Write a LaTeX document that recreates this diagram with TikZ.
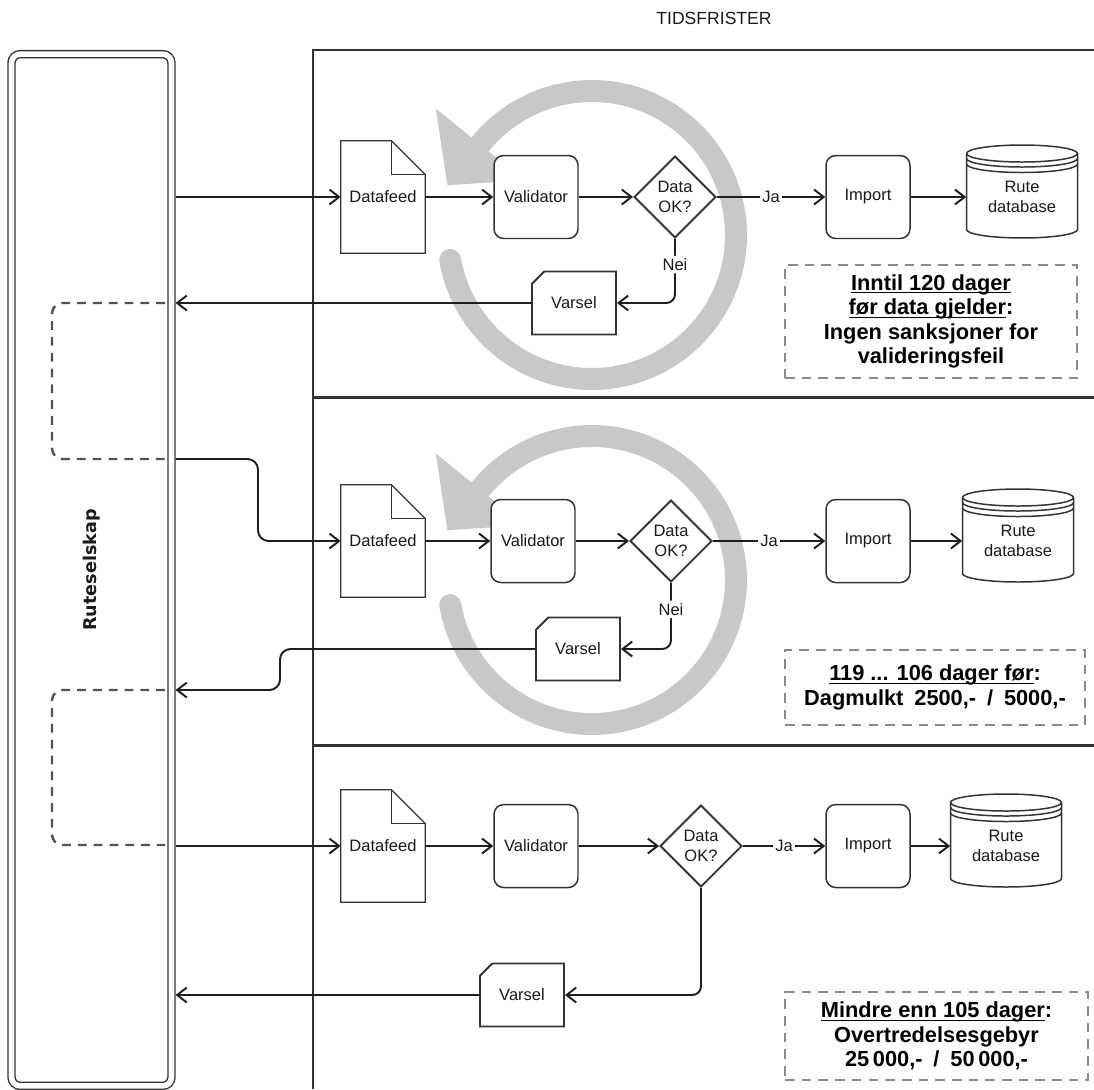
\documentclass[tikz,border=0pt]{standalone}
\usepackage{fontspec}
\setmainfont{Liberation Sans}
\newfontfamily\dejavu{DejaVu Sans}
\usetikzlibrary{shapes.geometric,shapes.misc,arrows.meta,calc}

\definecolor{ringgray}{HTML}{C8C8C8}
\definecolor{linje}{HTML}{1E1E1E}
\definecolor{kant}{HTML}{333333}
\definecolor{stiplet}{HTML}{8A8A8A}
\definecolor{tekst}{HTML}{1A1A1A}

\tikzstyle{kolonne} = [draw=kant, line width=0.8pt, double=white, double distance=3.2pt, rounded corners=5pt, minimum width=3.2cm, minimum height=20.64cm, outer sep=2.3pt]
\tikzstyle{prosess} = [draw=kant, line width=0.85pt, rounded corners=5.5pt, fill=white, minimum width=1.68cm, minimum height=1.66cm, inner sep=0pt]
\tikzstyle{beslutning} = [diamond, draw=kant, line width=1.1pt, fill=white, minimum width=1.64cm, minimum height=1.64cm, inner sep=0pt, align=center]
\tikzstyle{dok} = [minimum width=1.68cm, minimum height=2.24cm, inner sep=0pt]
\tikzstyle{varsel} = [chamfered rectangle, chamfered rectangle corners=north west, chamfered rectangle xsep=0.28cm, draw=kant, line width=1.1pt, fill=white, minimum width=1.68cm, minimum height=1.26cm, inner sep=0pt]
\tikzstyle{db} = [minimum width=2.22cm, minimum height=1.2cm, inner sep=0pt, align=center]
\tikzstyle{notat} = [draw=stiplet, line width=0.85pt, dash pattern=on 5.5pt off 4pt, align=center, text=black, font=\fontsize{12.4}{14}\selectfont\bfseries]
\tikzstyle{pil} = [draw=linje, line width=1.1pt, -{Straight Barb[length=5.5pt,width=8.5pt]}]
\tikzstyle{loopline} = [draw=black!68, line width=1.35pt, dash pattern=on 5pt off 4pt, rounded corners=6pt]
\tikzstyle{skille} = [draw=kant, line width=1.7pt]
\tikzstyle{ramme} = [draw=kant, line width=0.9pt]
\tikzstyle{etikett} = [fill=white, inner sep=1.5pt]

% underline sitting just under the baseline
\newcommand{\understrek}[1]{\underline{\raisebox{0pt}[\height][0pt]{#1}}}

% datafeed outline with folded corner
\newcommand{\dokument}[1]{%
  \draw[draw=kant, line width=0.7pt] (#1.north west) -- ($(#1.north east)+(-0.68cm,0)$) -- ($(#1.north east)+(0,-0.68cm)$) -- (#1.south east) -- (#1.south west) -- cycle;
  \draw[draw=kant, line width=0.7pt] ($(#1.north east)+(-0.68cm,0)$) |- ($(#1.north east)+(0,-0.68cm)$);
}
% database cylinder round the text node
\newcommand{\rutedb}[1]{%
  \draw[draw=kant, line width=0.85pt] ($(#1.center)+(-1.11cm,0.87cm)$) arc[start angle=180, end angle=0, x radius=1.11cm, y radius=0.17cm] -- ++(0,-1.52cm) arc[start angle=0, end angle=-180, x radius=1.11cm, y radius=0.17cm] -- cycle;
  \foreach \h in {0.87,0.77,0.66}
    \draw[draw=kant, line width=0.85pt] ($(#1.center)+(-1.11cm,\h cm)$) arc[start angle=180, end angle=360, x radius=1.11cm, y radius=0.17cm];
}
% grey circular arrow
\newcommand{\ringpil}[1]{%
  \draw[ringgray, line width=0.44cm, line cap=round] ($(#1)+(-170:2.88cm)$) arc[start angle=-170, end angle=141, radius=2.88cm];
  \fill[ringgray] ($(#1)+(141:4.02cm)$) -- ($(#1)+(161:3.06cm)$) -- ($(#1)+(141:1.74cm)$) -- cycle;
}

\begin{document}
\begin{tikzpicture}[x=0.02cm, y=-0.02cm, font=\fontsize{9.4}{11.3}\selectfont, text=tekst]
  \useasboundingbox (0,0) rectangle (1094,1089);

  % background arrows
  \coordinate (sirkel1) at (592,235);
  \coordinate (sirkel2) at (592,580);
  \ringpil{sirkel1}
  \ringpil{sirkel2}

  % lanes
  \node[font=\fontsize{10}{12}\selectfont] (tittel) at (714,18) {TIDSFRISTER};
  \draw[ramme] (313,1089) -- (313,50) -- (1094,50);
  \draw[skille] (313,397) -- (1094,397);
  \draw[skille] (313,745) -- (1094,745);

  \node[kolonne] (rs) at (91.5,570) {};
  \node[rotate=90, font=\dejavu\bfseries\fontsize{10}{12}\selectfont] (rstekst) at (rs.center) {Ruteselskap};

  % lane 1
  \node[dok] (df1) at (383,197) {Datafeed};
  \dokument{df1}
  \node[prosess] (val1) at (536,197) {Validator};
  \node[beslutning] (ok1) at (675,197) {Data\\OK?};
  \node[prosess] (imp1) at (868,197) {Import};
  \node[db] (db1) at (1022,197) {Rute\\database};
  \rutedb{db1}
  \node[varsel] (var1) at (574,303) {Varsel};
  \node[notat, minimum width=5.84cm, minimum height=2.26cm] (notat1) at (931,321.5) {\understrek{Inntil 120 dager}\\\understrek{før data gjelder}:\\Ingen sanksjoner for\\valideringsfeil};

  \draw[pil] (df1.west -| rs.east) -- (df1.west);
  \draw[pil] (df1) -- (val1);
  \draw[pil] (val1) -- (ok1);
  \draw[pil] (ok1) -- node[etikett] {Ja} (imp1);
  \draw[pil] (imp1) -- (imp1 -| db1.west);
  \draw[pil, rounded corners=5pt] (ok1.south) |- node[etikett, pos=0.2] {Nei} (var1.east);
  \draw[pil] (var1.west) -- (var1.west -| rs.east);

  % lane 2
  \node[dok] (df2) at (383,541) {Datafeed};
  \dokument{df2}
  \node[prosess] (val2) at (533,541) {Validator};
  \node[beslutning] (ok2) at (671,541) {Data\\OK?};
  \node[prosess] (imp2) at (868,541) {Import};
  \node[db] (db2) at (1018,541) {Rute\\database};
  \rutedb{db2}
  \node[varsel] (var2) at (578,649) {Varsel};
  \node[notat, minimum width=6cm, minimum height=1.5cm] (notat2) at (935,687.5) {\understrek{119 ... 106 dager før}:\\Dagmulkt\enspace 2500,-\enspace/\enspace 5000,-};

  \coordinate (knekk2) at (258,459);
  \coordinate (knekk2b) at (280,690);
  \draw[pil, rounded corners=6pt] (knekk2 -| rs.east) -- (knekk2) |- (df2.west);
  \draw[pil] (df2) -- (val2);
  \draw[pil] (val2) -- (ok2);
  \draw[pil] (ok2) -- node[etikett] {Ja} (imp2);
  \draw[pil] (imp2) -- (imp2 -| db2.west);
  \draw[pil, rounded corners=5pt] (ok2.south) |- node[etikett, pos=0.2] {Nei} (var2.east);
  \draw[pil, rounded corners=6pt] (var2.west) -| (knekk2b) -- (knekk2b -| rs.east);

  % lane 3
  \node[dok] (df3) at (383,846) {Datafeed};
  \dokument{df3}
  \node[prosess] (val3) at (536,846) {Validator};
  \node[beslutning] (ok3) at (701,846) {Data\\OK?};
  \node[prosess] (imp3) at (868,846) {Import};
  \node[db] (db3) at (1006,846) {Rute\\database};
  \rutedb{db3}
  \node[varsel] (var3) at (522,995) {Varsel};
  \node[notat, minimum width=6.06cm, minimum height=1.76cm] (notat3) at (936.5,1036) {\understrek{Mindre enn 105 dager}:\\Overtredelsesgebyr\\25\,000,-\enspace/\enspace 50\,000,-};

  \draw[pil] (df3.west -| rs.east) -- (df3.west);
  \draw[pil] (df3) -- (val3);
  \draw[pil] (val3) -- (ok3);
  \draw[pil] (ok3) -- node[etikett] {Ja} (imp3);
  \draw[pil] (imp3) -- (imp3 -| db3.west);
  \draw[pil, rounded corners=5pt] (ok3.south) |- (var3.east);
  \draw[pil] (var3.west) -- (var3.west -| rs.east);

  % dashed returns inside Ruteselskap
  \coordinate (loop1a) at (165,303);
  \coordinate (loop1b) at (165,459);
  \coordinate (loop2a) at (165,690);
  \coordinate (loop2b) at (165,845);
  \draw[loopline] (loop1a) -- ++(-113,0) |- (loop1b);
  \draw[loopline] (loop2a) -- ++(-113,0) |- (loop2b);
\end{tikzpicture}
\end{document}
